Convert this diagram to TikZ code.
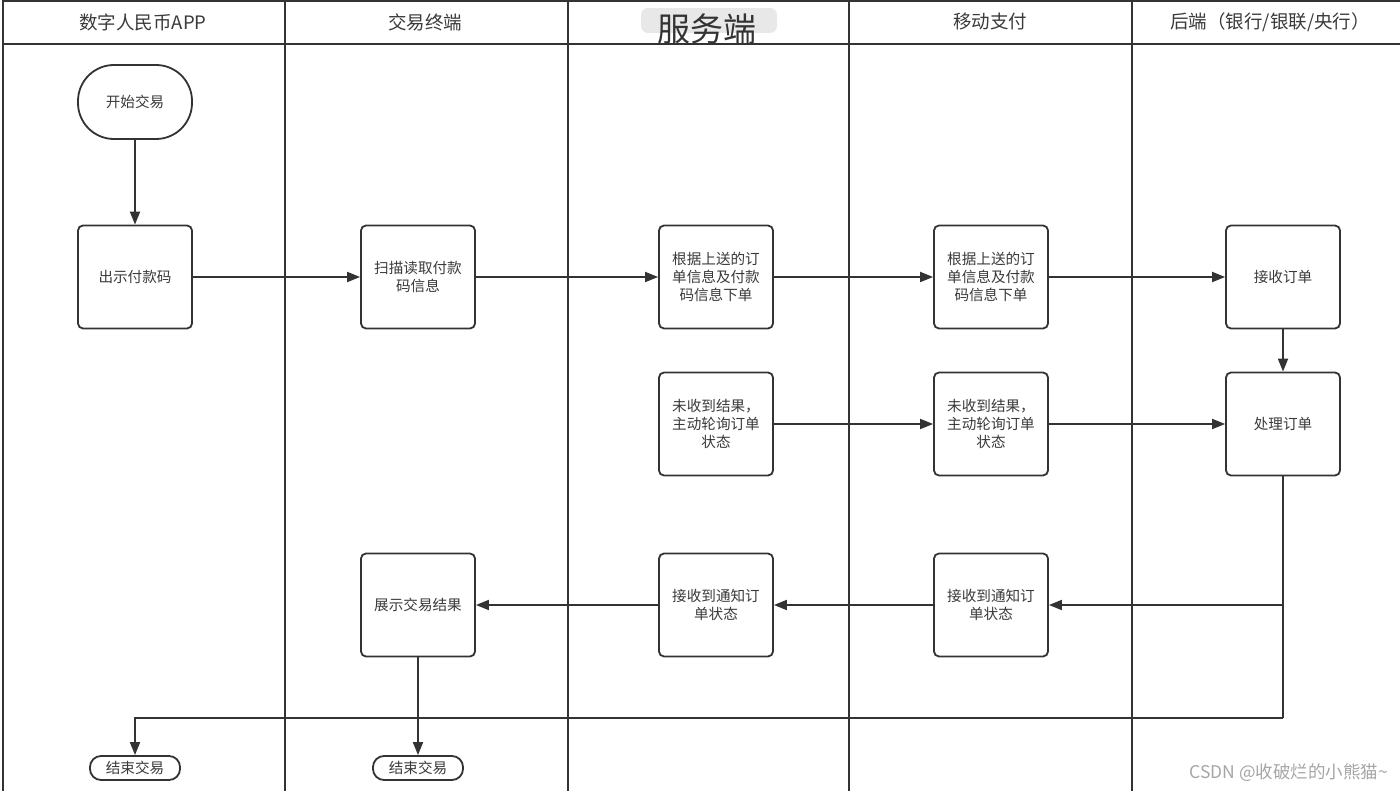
\documentclass[tikz,border=0pt]{standalone}
\usepackage{fontspec}
\setmainfont{Noto Sans CJK SC}
\usetikzlibrary{arrows.meta}
\definecolor{ink}{HTML}{333333}
\definecolor{txt}{HTML}{3A3A3A}
\tikzset{
  lane/.style={draw=ink, line width=1.8pt},
  box/.style={draw=ink, line width=1.8pt, fill=white, rounded corners=5pt,
    minimum width=114pt, minimum height=103pt, align=center, text=txt,
    font=\fontsize{14.6}{18}\selectfont, inner sep=0pt},
  startbox/.style={draw=ink, line width=1.8pt, fill=white, rounded corners=36pt,
    minimum width=114pt, minimum height=74pt, align=center, text=txt,
    font=\fontsize{14.6}{18}\selectfont, inner sep=0pt},
  endbox/.style={draw=ink, line width=1.8pt, fill=white, rounded corners=11pt,
    minimum width=90pt, minimum height=24pt, align=center, text=txt,
    font=\fontsize{14.6}{18}\selectfont, inner sep=0pt},
  head/.style={text=txt, font=\fontsize{18.5}{20}\selectfont, inner sep=0pt},
  arr/.style={draw=ink, line width=1.8pt, -{Triangle[length=13pt,width=10pt]}},
  conn/.style={draw=ink, line width=1.8pt},
}
\begin{document}
\begin{tikzpicture}[x=1pt,y=-1pt]
\useasboundingbox (0,0) rectangle (1400,791);
\fill[white] (0,0) rectangle (1400,791);
% lanes
\draw[lane] (3,1) -- (1400,1);
\draw[lane] (3,44) -- (1400,44);
\foreach \x in {3,285,568,849,1132} \draw[lane] (\x,0) -- (\x,791);
% headers
\node[head] (h1) at (143,22) {数字人民币APP};
\node[head] (h2) at (425,22) {交易终端};
\fill[gray!18, rounded corners=7pt] (641,8) rectangle (777,33);
\node[text=ink, font=\fontsize{33}{36}\selectfont, inner sep=0pt] (h3) at (707,29) {服务端};
\node[head] (h4) at (990,22) {移动支付};
\node[head] (h5) at (1270,22) {后端（银行/银联/央行）};
% nodes
\node[startbox] (start) at (135,102) {开始交易};
\node[box] (show) at (135,277) {出示付款码};
\node[box] (scan) at (418,277) {扫描读取付款\\码信息};
\node[box] (srvorder) at (716,277) {根据上送的订\\单信息及付款\\码信息下单};
\node[box] (moborder) at (991,277) {根据上送的订\\单信息及付款\\码信息下单};
\node[box] (recv) at (1283,277) {接收订单};
\node[box] (srvpoll) at (716,424) {未收到结果，\\主动轮询订单\\状态};
\node[box] (mobpoll) at (991,424) {未收到结果，\\主动轮询订单\\状态};
\node[box] (proc) at (1283,424) {处理订单};
\node[box] (display) at (418,605) {展示交易结果};
\node[box] (srvnote) at (716,605) {接收到通知订\\单状态};
\node[box] (mobnote) at (991,605) {接收到通知订\\单状态};
\node[endbox] (endA) at (135,768) {结束交易};
\node[endbox] (endB) at (418,768) {结束交易};
\coordinate (turn) at (1283,718);
% connectors
\draw[arr] (start) -- (show);
\draw[arr] (show) -- (scan);
\draw[arr] (scan) -- (srvorder);
\draw[arr] (srvorder) -- (moborder);
\draw[arr] (moborder) -- (recv);
\draw[arr] (recv) -- (proc);
\draw[arr] (srvpoll) -- (mobpoll);
\draw[arr] (mobpoll) -- (proc);
\draw[arr] (proc.south) |- (mobnote.east);
\draw[conn] (proc.south) -- (turn);
\draw[arr] (turn) -| (endA.north);
\draw[arr] (mobnote) -- (srvnote);
\draw[arr] (srvnote) -- (display);
\draw[arr] (display) -- (endB);
% watermark
\node[text=gray!70, font=\fontsize{17.5}{20}\selectfont, inner sep=0pt, anchor=east] (wm) at (1388,773) {CSDN @收破烂的小熊猫\textasciitilde};
\end{tikzpicture}
\end{document}
